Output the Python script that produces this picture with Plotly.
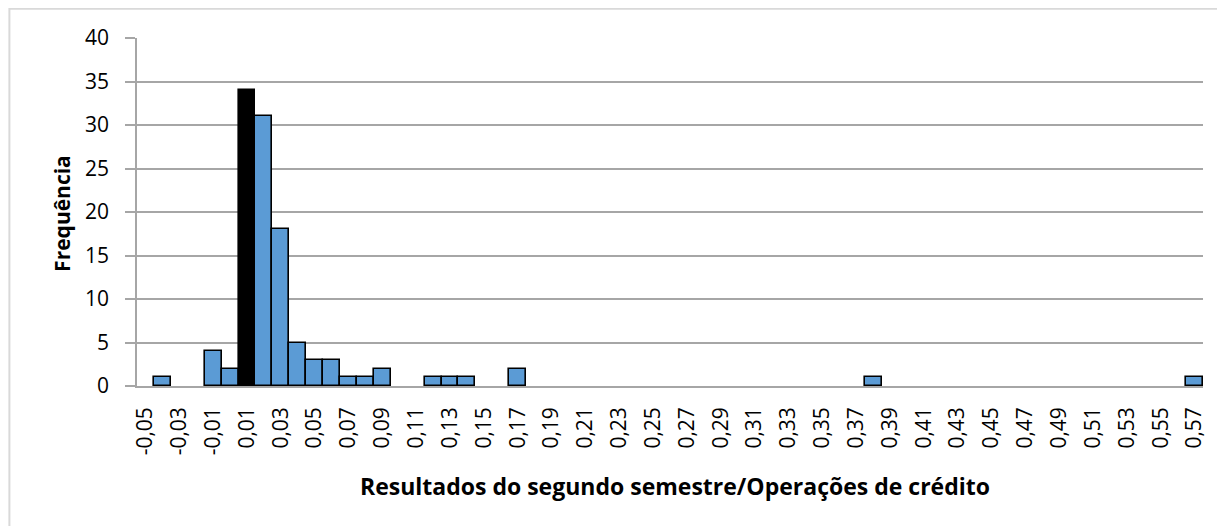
import plotly.graph_objects as go

# Bin labels (-0,05 .. 0,57 step 0,01)
categories = [
    "-0,05", "-0,04", "-0,03", "-0,02", "-0,01", "0,00", "0,01", "0,02", "0,03", "0,04",
    "0,05", "0,06", "0,07", "0,08", "0,09", "0,10", "0,11", "0,12", "0,13", "0,14",
    "0,15", "0,16", "0,17", "0,18", "0,19", "0,20", "0,21", "0,22", "0,23", "0,24",
    "0,25", "0,26", "0,27", "0,28", "0,29", "0,30", "0,31", "0,32", "0,33", "0,34",
    "0,35", "0,36", "0,37", "0,38", "0,39", "0,40", "0,41", "0,42", "0,43", "0,44",
    "0,45", "0,46", "0,47", "0,48", "0,49", "0,50", "0,51", "0,52", "0,53", "0,54",
    "0,55", "0,56", "0,57",
]
frequencies = [
    0, 1, 0, 0, 4, 2, 34, 31, 18, 5,
    3, 3, 1, 1, 2, 0, 0, 1, 1, 1,
    0, 0, 2, 0, 0, 0, 0, 0, 0, 0,
    0, 0, 0, 0, 0, 0, 0, 0, 0, 0,
    0, 0, 0, 1, 0, 0, 0, 0, 0, 0,
    0, 0, 0, 0, 0, 0, 0, 0, 0, 0,
    0, 0, 1,
]
highlight = "0,01"
tick_labels = categories[::2]
y_ticks = [0, 5, 10, 15, 20, 25, 30, 35, 40]

BLUE = "#5b9bd5"
fill = ["#000000" if c == highlight else BLUE for c in categories]
line_w = [1.6 if v > 0 else 0 for v in frequencies]

fig = go.Figure()
fig.add_trace(go.Bar(
    x=categories, y=frequencies,
    marker=dict(color=fill, line=dict(color="#000000", width=line_w)),
    showlegend=False,
))

FONT = "Open Sans"
fig.update_layout(
    width=1225, height=526,
    margin=dict(l=129, r=30, t=30, b=148),
    paper_bgcolor="white", plot_bgcolor="white",
    bargap=0,
    font=dict(family=FONT, color="#000000"),
    xaxis=dict(
        type="category",
        tickmode="array", tickvals=tick_labels, ticktext=tick_labels,
        tickangle=-90,
        tickfont=dict(family=FONT, size=21, color="#000000"),
        ticks="", ticklabelstandoff=11,
        showgrid=False,
        showline=True, linecolor="#a6a6a6", linewidth=1.5,
        range=[-0.5, len(categories) - 0.5],
    ),
    yaxis=dict(
        range=[0, 40],
        tickmode="array", tickvals=y_ticks,
        tickfont=dict(family=FONT, size=21, color="#000000"),
        ticks="outside", ticklen=10, tickcolor="#a6a6a6", tickwidth=1.5,
        ticklabelstandoff=12,
        showgrid=True, gridcolor="#a6a6a6", gridwidth=1.5,
        showline=True, linecolor="#a6a6a6", linewidth=1.5,
        zeroline=False,
    ),
    annotations=[
        dict(text="<b>Resultados do segundo semestre/Operações de crédito</b>",
             xref="paper", yref="paper", x=0.5047, y=-0.2875,
             xanchor="center", yanchor="middle", showarrow=False,
             font=dict(family=FONT, size=23, color="#000000")),
        dict(text="<b>Frequência</b>",
             xref="paper", yref="paper", x=-0.070, y=0.4957,
             xanchor="center", yanchor="middle", showarrow=False, textangle=-90,
             font=dict(family=FONT, size=21, color="#000000")),
    ],
    shapes=[
        dict(type="rect", xref="paper", yref="paper",
             x0=-0.1197, x1=1.2, y0=-0.6, y1=1.0843,
             line=dict(color="#d9d9d9", width=2), layer="below"),
    ],
)

fig.write_html("out.html")
